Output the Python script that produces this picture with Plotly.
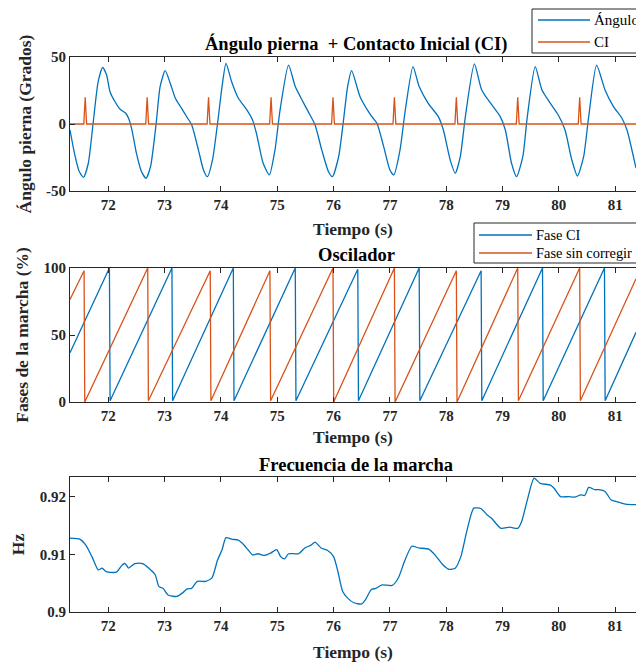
import plotly.graph_objects as go

# ---------------- data ----------------
X_START, X_END = 71.32, 81.37
x_ticks = [72, 73, 74, 75, 76, 77, 78, 79, 80, 81]

# Leg angle (degrees)
ang_t = [71.32, 71.40, 71.48, 71.56, 71.645, 71.73, 71.82, 71.90, 71.97, 72.03, 72.12, 72.21, 72.31, 72.36,
         72.42, 72.50, 72.59, 72.67, 72.75, 72.85, 72.92, 73.01, 73.10, 73.19, 73.30, 73.39, 73.48, 73.60,
         73.69, 73.76, 73.85, 73.94, 74.02, 74.09, 74.19, 74.31, 74.46, 74.56, 74.63, 74.75, 74.86, 74.96,
         75.05, 75.20, 75.32, 75.44, 75.55, 75.67, 75.79, 75.91, 75.98, 76.09, 76.17, 76.25, 76.32, 76.47,
         76.62, 76.68, 76.77, 76.89, 77.00, 77.07, 77.18, 77.27, 77.41, 77.52, 77.68, 77.86, 77.95, 78.07,
         78.16, 78.25, 78.34, 78.50, 78.63, 78.81, 78.96, 79.05, 79.16, 79.25, 79.36, 79.44, 79.58, 79.70,
         79.85, 79.99, 80.11, 80.23, 80.33, 80.44, 80.53, 80.67, 80.82, 80.97, 81.12, 81.21, 81.37]
ang_v = [-4.5, -22, -35, -39.8, -29.3, 0.5, 31.6, 42.3, 36.6, 24.1, 16.6, 11.0, 8.0, 4.2,
         -4.5, -21.9, -35.6, -40.5, -31.8, 0.5, 27.9, 39.8, 30.4, 19.2, 11.8, 5.6, -0.6, -19.3,
         -34.3, -39.3, -26.8, 0.5, 28.0, 45.3, 31.6, 19.2, 10.5, 3.1, -6.9, -29.3, -38.0, -19.3,
         10.5, 44.0, 27.9, 17.9, 9.2, -0.6, -19.3, -35.6, -39.3, -24.4, 0.5, 28.0, 39.8, 20.4,
         9.2, 5.5, 0.5, -16.9, -34.3, -38.0, -19.3, 9.2, 42.8, 27.9, 15.4, 5.5, -4.5, -26.8,
         -36.8, -24.4, 5.5, 44.8, 25.4, 14.2, 5.5, -4.5, -29.3, -39.3, -24.4, 5.5, 42.8, 25.4,
         15.4, 6.7, -4.5, -26.8, -38.8, -24.4, 5.5, 44.0, 25.4, 13.0, 4.3, -4.5, -33.0]

# Initial contact (CI) spikes
ci_times = [71.59, 72.69, 73.78, 74.89, 75.99, 77.08, 78.18, 79.27, 80.37]
ci_height = 20
ci_half_width = 0.025

# Oscillator phases (%)
fase_ci_start = 36.8
fase_ci_resets = [72.02, 73.13, 74.22, 75.32, 76.43, 77.52, 78.62, 79.71, 80.81]
fase_ci_peaks = [100, 100, 100, 100, 99, 100, 98, 100, 100]
fase_ci_lows = [1, 1, 1, 1, 1, 1, 1, 1, 1]
fase_ci_end = 52

fase_sc_start = 76.6
fase_sc_resets = [71.57, 72.70, 73.81, 74.87, 75.99, 77.08, 78.18, 79.27, 80.37]
fase_sc_peaks = [98, 100, 98, 98, 100, 100, 98, 100, 100]
fase_sc_lows = [0, 1, 1, 1, 0, 0, 0, 1, 1]
fase_sc_end = 92

# Gait frequency (Hz)
freq_t = [71.30, 71.50, 71.60, 71.71, 71.82, 71.89, 71.96, 72.14, 72.25, 72.30, 72.36, 72.47, 72.61, 72.72,
          72.83, 72.90, 72.97, 73.07, 73.22, 73.33, 73.40, 73.48, 73.58, 73.73, 73.84, 73.94, 74.02, 74.09,
          74.20, 74.30, 74.38, 74.48, 74.56, 74.66, 74.77, 74.88, 74.99, 75.06, 75.13, 75.20, 75.38, 75.49,
          75.60, 75.67, 75.78, 75.89, 76.00, 76.07, 76.16, 76.25, 76.36, 76.50, 76.57, 76.67, 76.75, 76.86,
          77.04, 77.15, 77.26, 77.39, 77.51, 77.69, 77.80, 77.94, 78.05, 78.16, 78.26, 78.37, 78.49, 78.62,
          78.73, 78.80, 78.97, 79.13, 79.27, 79.34, 79.44, 79.56, 79.67, 79.85, 79.92, 80.03, 80.17, 80.28,
          80.39, 80.46, 80.53, 80.64, 80.71, 80.82, 80.93, 81.04, 81.18, 81.37]
freq_v = [0.9128, 0.9126, 0.9116, 0.9096, 0.9073, 0.9076, 0.9070, 0.9069, 0.9082, 0.9084, 0.9076, 0.9084, 0.9084, 0.9076,
          0.9065, 0.9044, 0.9041, 0.9029, 0.9027, 0.9034, 0.9040, 0.9041, 0.9053, 0.9053, 0.9059, 0.9090, 0.9108, 0.9129,
          0.9126, 0.9125, 0.9119, 0.9108, 0.9099, 0.9101, 0.9098, 0.9102, 0.9108, 0.9096, 0.9092, 0.9101, 0.9101, 0.9111,
          0.9116, 0.9121, 0.9111, 0.9107, 0.9096, 0.9073, 0.9036, 0.9024, 0.9016, 0.9014, 0.9022, 0.9039, 0.9041, 0.9047,
          0.9046, 0.9059, 0.9088, 0.9114, 0.9111, 0.9109, 0.9099, 0.9082, 0.9074, 0.9076, 0.9096, 0.9142, 0.9180, 0.9179,
          0.9168, 0.9163, 0.9145, 0.9147, 0.9145, 0.9157, 0.9194, 0.9232, 0.9223, 0.9220, 0.9214, 0.9200, 0.9200, 0.9199,
          0.9203, 0.9202, 0.9216, 0.9212, 0.9212, 0.9209, 0.9194, 0.9191, 0.9187, 0.9186]

# ---------------- styling ----------------
BLUE = "#0072BD"
ORANGE = "#D95319"
AXC = "#262626"
FONT = "Liberation Serif"
W, H = 636, 662
ML = 70
PW = W - ML


def py(px):
    return 1 - px / H


def pxx(px):
    return (px - ML) / PW


# build series
ci_x, ci_y = [X_START], [0]
for t in ci_times:
    ci_x += [t - ci_half_width, t, t + ci_half_width]
    ci_y += [0, ci_height, 0]
ci_x.append(X_END)
ci_y.append(0)


def sawtooth(start, resets, peaks, lows, end):
    xs, ys = [X_START], [start]
    for r, p, lo in zip(resets, peaks, lows):
        xs += [r, r + 0.012]
        ys += [p, lo]
    xs.append(X_END)
    ys.append(end)
    return xs, ys


fci_x, fci_y = sawtooth(fase_ci_start, fase_ci_resets, fase_ci_peaks, fase_ci_lows, fase_ci_end)
fsc_x, fsc_y = sawtooth(fase_sc_start, fase_sc_resets, fase_sc_peaks, fase_sc_lows, fase_sc_end)

series = [
    dict(x=ang_t, y=ang_v, name="Ángulo pierna", color=BLUE, shape="spline", ax=("x", "y")),
    dict(x=ci_x, y=ci_y, name="CI", color=ORANGE, shape="linear", ax=("x", "y")),
    dict(x=fci_x, y=fci_y, name="Fase CI", color=BLUE, shape="linear", ax=("x2", "y2")),
    dict(x=fsc_x, y=fsc_y, name="Fase sin corregir", color=ORANGE, shape="linear", ax=("x2", "y2")),
    dict(x=freq_t, y=freq_v, name="Frecuencia", color=BLUE, shape="spline", ax=("x3", "y3")),
]

fig = go.Figure()
for s in series:
    line = dict(color=s["color"], width=1.3, shape=s["shape"])
    if s["shape"] == "spline":
        line["smoothing"] = 0.6
    fig.add_trace(go.Scatter(x=s["x"], y=s["y"], mode="lines", name=s["name"], line=line,
                             xaxis=s["ax"][0], yaxis=s["ax"][1], showlegend=False))

tickfont = dict(family=FONT, size=15, color=AXC, weight="bold")
titlefont = dict(family=FONT, size=17.5, color=AXC, weight="bold")


def xax(anchor, standoff):
    return dict(range=[X_START, X_END], tickvals=x_ticks, ticks="inside", ticklen=5, tickwidth=1,
                tickcolor=AXC, showline=True, linecolor=AXC, linewidth=1, mirror="ticks",
                showgrid=False, zeroline=False, tickfont=tickfont, anchor=anchor, domain=[0, 1],
                title=dict(text="Tiempo (s)", font=titlefont, standoff=standoff))


def yax(rng, dom, tv, tt, title, standoff):
    return dict(range=rng, domain=dom, tickvals=tv, ticktext=tt, ticks="inside", ticklen=5, tickwidth=1,
                tickcolor=AXC, showline=True, linecolor=AXC, linewidth=1, mirror=False,
                showgrid=False, zeroline=False, tickfont=tickfont,
                title=dict(text=title, font=titlefont, standoff=standoff))


# hand-drawn MATLAB-like legends (box, line samples, labels), cropped at the right edge
legends = [
    dict(box=(532, 9, 53), line_x=(538, 590), text_x=593, size=15, entries=[(series[0], 20), (series[1], 42)]),
    dict(box=(474, 223, 263), line_x=(479, 532), text_x=535, size=14.4, entries=[(series[2], 235), (series[3], 253)]),
]

shapes = []
annotations = []
for lg in legends:
    bx, by0, by1 = lg["box"]
    shapes.append(dict(type="rect", xref="paper", yref="paper", x0=pxx(bx), x1=pxx(W + 60),
                       y0=py(by1), y1=py(by0), line=dict(color=AXC, width=1), fillcolor="white", layer="above"))
    for s, ey in lg["entries"]:
        shapes.append(dict(type="line", xref="paper", yref="paper", x0=pxx(lg["line_x"][0]),
                           x1=pxx(lg["line_x"][1]), y0=py(ey), y1=py(ey),
                           line=dict(color=s["color"], width=1.3), layer="above"))
        annotations.append(dict(text=s["name"], x=pxx(lg["text_x"]), y=py(ey), xref="paper", yref="paper",
                                showarrow=False, xanchor="left", yanchor="middle", borderpad=0,
                                font=dict(family=FONT, size=lg["size"], color="black")))

titles = [("Ángulo pierna  + Contacto Inicial (CI)", 44), ("Oscilador", 254.5), ("Frecuencia de la marcha", 465)]
for txt, ty in titles:
    annotations.append(dict(text=txt, x=pxx(356), y=py(ty), xref="paper", yref="paper", showarrow=False,
                            xanchor="center", yanchor="middle",
                            font=dict(family=FONT, size=18.5, color="black", weight="bold")))

fig.update_layout(
    width=W, height=H,
    margin=dict(l=ML, r=0, t=0, b=0, autoexpand=False),
    paper_bgcolor="white", plot_bgcolor="white",
    showlegend=False,
    xaxis=xax("y", 10), xaxis2=xax("y2", 7), xaxis3=xax("y3", 12),
    yaxis=yax([-50, 50], [py(191), py(57)], [-50, 0, 50], ["-50", "0", "50"], "Ángulo pierna (Grados)", 9),
    yaxis2=yax([0, 100], [py(402), py(268)], [0, 50, 100], ["0", "50", "100"], "Fases de la marcha (%)", 10),
    yaxis3=yax([0.9, 0.9234], [py(612), py(477)], [0.9, 0.91, 0.92], ["0.9", "0.91", "0.92"], "Hz", 10),
    shapes=shapes,
    annotations=annotations,
)

fig.write_html("out.html")
